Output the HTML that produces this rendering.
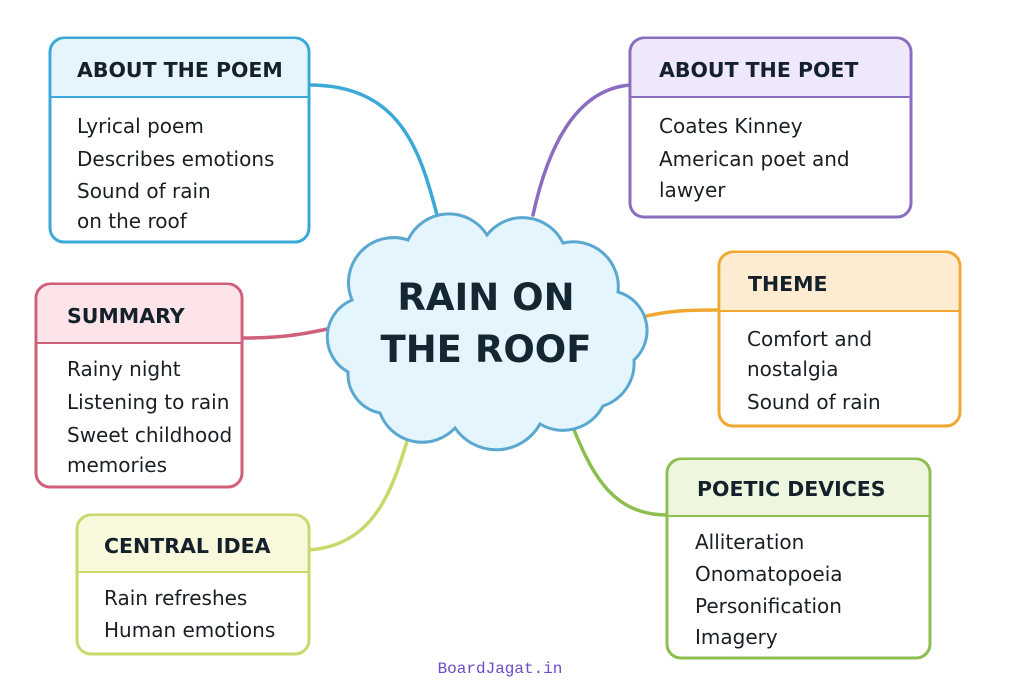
<!DOCTYPE html>
<html><head><meta charset="utf-8"><style>
html,body{margin:0;padding:0;background:#fff;width:1024px;height:683px;overflow:hidden}
svg text{font-family:"DejaVu Sans","Liberation Sans",sans-serif}
.h{font-weight:bold;font-size:20.5px;fill:#14212b}
.b{font-size:20px;fill:#1a1f24}
</style></head><body>
<svg width="1024" height="683" viewBox="0 0 1024 683">
<g fill="none" stroke-width="3.5" stroke-linecap="round">
<path d="M309 85 C400 85 420 150 437 215" stroke="#3aa9d8"/>
<path d="M630 85 C570 90 545 160 533 215" stroke="#8a6cc0"/>
<path d="M242 338 C280 338 300 335 332 328" stroke="#d0607a"/>
<path d="M638 318 C670 310 690 310 719 310" stroke="#f0a830"/>
<path d="M309 550 C380 545 395 480 412 425" stroke="#c8d86a"/>
<path d="M570 420 C590 470 610 515 667 515" stroke="#8cbf50"/>
</g>
<path d="M408 240 A45 45 0 0 1 487 235 A45 45 0 0 1 563 243 A45 45 0 0 1 618 292 A40 40 0 0 1 634 360 A45 45 0 0 1 603 406 A45 45 0 0 1 540 424 A50 50 0 0 1 455 428 A45 45 0 0 1 380 413 A40 40 0 0 1 348 372 A40 40 0 0 1 352 300 A45 45 0 0 1 408 240 Z" fill="#e4f5fd" stroke="#5aa8d0" stroke-width="3"/>
<text x="486" y="310" text-anchor="middle" font-weight="bold" font-size="37" fill="#14262f">RAIN ON</text>
<text x="486" y="362" text-anchor="middle" font-weight="bold" font-size="37" fill="#14262f">THE ROOF</text>

<g stroke-width="3">
<rect x="50" y="38" width="259" height="204" rx="14" fill="#fff" stroke="#3aa9d8"/>
<path d="M52 97 V52 a13 13 0 0 1 13 -13 H294 a13 13 0 0 1 13 13 V97 Z" fill="#e6f5fc"/>
<line x1="51" y1="97" x2="308" y2="97" stroke="#3aa9d8" stroke-width="2"/>

<rect x="630" y="38" width="281" height="179" rx="14" fill="#fff" stroke="#8a6cc0"/>
<path d="M632 97 V52 a13 13 0 0 1 13 -13 H896 a13 13 0 0 1 13 13 V97 Z" fill="#efe8fb"/>
<line x1="631" y1="97" x2="910" y2="97" stroke="#8a6cc0" stroke-width="2"/>

<rect x="36" y="284" width="206" height="203" rx="14" fill="#fff" stroke="#d0607a"/>
<path d="M38 343 V298 a13 13 0 0 1 13 -13 H227 a13 13 0 0 1 13 13 V343 Z" fill="#fde4e8"/>
<line x1="37" y1="343" x2="241" y2="343" stroke="#d0607a" stroke-width="2"/>

<rect x="719" y="252" width="241" height="174" rx="14" fill="#fff" stroke="#f0a830"/>
<path d="M721 311 V266 a13 13 0 0 1 13 -13 H945 a13 13 0 0 1 13 13 V311 Z" fill="#fdecd2"/>
<line x1="720" y1="311" x2="959" y2="311" stroke="#f0a830" stroke-width="2"/>

<rect x="77" y="515" width="232" height="139" rx="14" fill="#fff" stroke="#c8d86a"/>
<path d="M79 572 V529 a13 13 0 0 1 13 -13 H294 a13 13 0 0 1 13 13 V572 Z" fill="#f8f8dc"/>
<line x1="78" y1="572" x2="308" y2="572" stroke="#c8d86a" stroke-width="2"/>

<rect x="667" y="459" width="263" height="199" rx="14" fill="#fff" stroke="#8cbf50"/>
<path d="M669 516 V473 a13 13 0 0 1 13 -13 H915 a13 13 0 0 1 13 13 V516 Z" fill="#eef6df"/>
<line x1="668" y1="516" x2="929" y2="516" stroke="#8cbf50" stroke-width="2"/>
</g>

<text class="h" x="77" y="77">ABOUT THE POEM</text>
<text class="b" x="77" y="133">Lyrical poem</text>
<text class="b" x="77" y="166">Describes emotions</text>
<text class="b" x="77" y="198">Sound of rain</text>
<text class="b" x="77" y="228">on the roof</text>

<text class="h" x="659" y="77">ABOUT THE POET</text>
<text class="b" x="659" y="133">Coates Kinney</text>
<text class="b" x="659" y="166">American poet and</text>
<text class="b" x="659" y="197">lawyer</text>

<text class="h" x="67" y="323">SUMMARY</text>
<text class="b" x="67" y="376">Rainy night</text>
<text class="b" x="67" y="409">Listening to rain</text>
<text class="b" x="67" y="442">Sweet childhood</text>
<text class="b" x="67" y="472">memories</text>

<text class="h" x="748" y="291">THEME</text>
<text class="b" x="747" y="346">Comfort and</text>
<text class="b" x="747" y="376">nostalgia</text>
<text class="b" x="747" y="409">Sound of rain</text>

<text class="h" x="104" y="553">CENTRAL IDEA</text>
<text class="b" x="104" y="605">Rain refreshes</text>
<text class="b" x="104" y="637">Human emotions</text>

<text class="h" x="697" y="496">POETIC DEVICES</text>
<text class="b" x="695" y="549">Alliteration</text>
<text class="b" x="695" y="581">Onomatopoeia</text>
<text class="b" x="695" y="613">Personification</text>
<text class="b" x="695" y="644">Imagery</text>

<text x="500" y="673" text-anchor="middle" font-size="16" fill="#6a4cc8" style="font-family:'Liberation Mono',monospace">BoardJagat.in</text>
</svg>
</body></html>
